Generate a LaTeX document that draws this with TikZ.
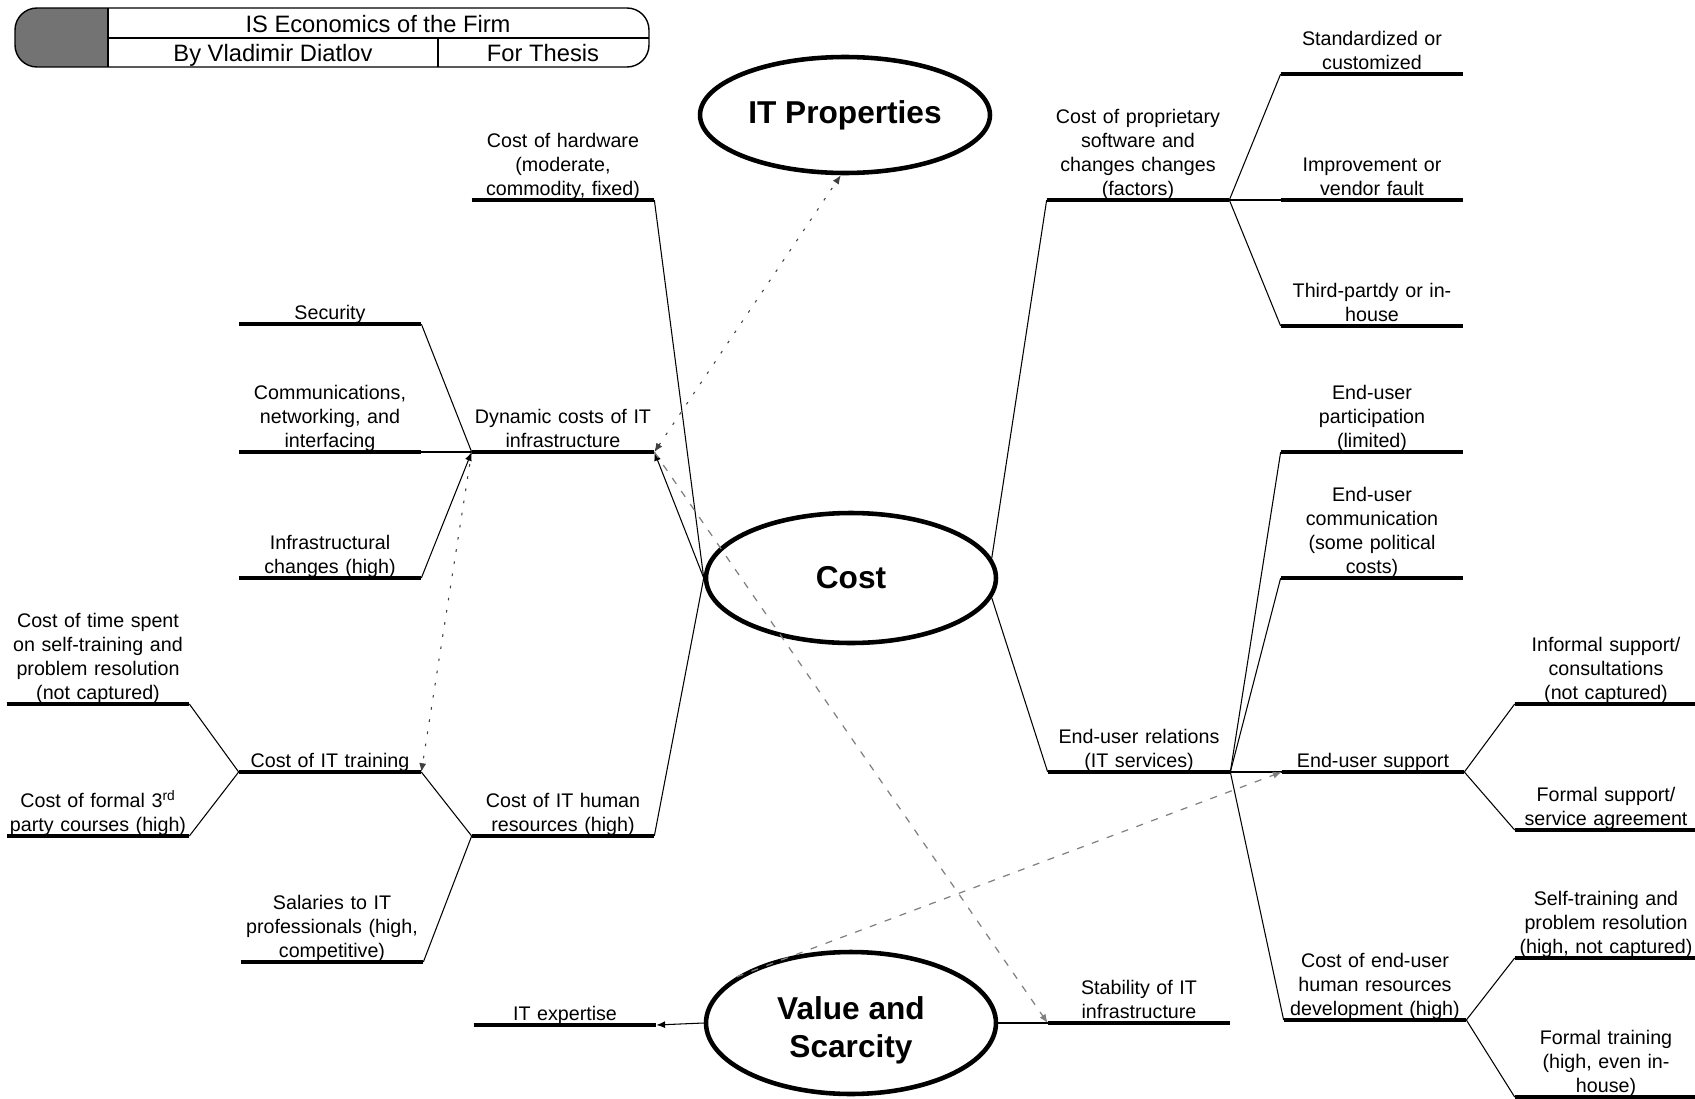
\documentclass[tikz,border=0pt]{standalone}
\usepackage{fontspec}
\setmainfont{Liberation Sans}
\usetikzlibrary{shapes.geometric,arrows.meta,calc}

\tikzset{
  topic/.style={text width=3.64cm, align=center, inner xsep=0pt, inner ysep=0pt,
    anchor=south, font=\fontsize{11.2}{13.6}\selectfont,
    execute at end node={\unskip\rule[-2.4pt]{0pt}{2.4pt}}},
  bar/.style={line width=2.4pt},
  link/.style={line width=0.6pt},
  tip/.style={-{Latex[length=5pt,width=4pt]}},
  twotips/.style={{Latex[length=5pt,width=4pt]}-{Latex[length=5pt,width=4pt]}},
  dotline/.style={line width=0.6pt, black!75, dash pattern=on 1.5pt off 5.5pt},
  dashline/.style={line width=0.7pt, black!50, dash pattern=on 4pt off 5pt},
  bubble/.style={ellipse, draw, line width=2.6pt, inner sep=0pt, align=center,
    font=\fontsize{18}{21.6}\selectfont\bfseries},
  heading/.style={font=\fontsize{13.5}{16}\selectfont, inner sep=0pt, anchor=base},
}

\begin{document}
\begin{tikzpicture}[x=0.02cm, y=-0.02cm]
\useasboundingbox (0,0) rectangle (1695,1099);

% header plate
\begin{scope}
  \clip[rounded corners=0.44cm] (15,8) rectangle (649,67);
  \fill[black!55] (15,8) rectangle (108,67);
\end{scope}
\draw[line width=0.8pt, rounded corners=0.44cm] (15,8) rectangle (649,67);
\draw[line width=0.6pt] (108,8) -- (108,67);
\draw[line width=0.6pt] (108,38) -- (649,38);
\draw[line width=0.6pt] (438,38) -- (438,67);
\node[heading] (ttl) at (378,32) {IS Economics of the Firm};
\node[heading] (auth) at (273,61) {By Vladimir Diatlov};
\node[heading] (purp) at (543,61) {For Thesis};

% central ellipses
\node[bubble, minimum width=5.8cm, minimum height=2.32cm] (itp) at (845,115) {IT Properties};
\node[bubble, minimum width=5.8cm, minimum height=2.6cm] (cost) at (851,578) {Cost};
\node[bubble, minimum width=5.8cm, minimum height=2.84cm] (vs) at (851,1023)
  {\rule{0pt}{21.5pt}Value and\\Scarcity};

% left branches
\node[topic] (hw) at (563,200) {Cost of hardware\\(moderate,\\commodity, fixed)};
\node[topic] (dyn) at (563,452) {Dynamic costs of IT\\infrastructure};
\node[topic] (sec) at (330,324) {Security};
\node[topic] (comm) at (330,452) {Communications,\\networking, and\\interfacing};
\node[topic] (infra) at (330,578) {Infrastructural\\changes (high)};
\node[topic] (time) at (98,704) {Cost of time spent\\on self-training and\\problem resolution\\(not captured)};
\node[topic] (train) at (330,772) {Cost of IT training};
\node[topic] (fthird) at (98,836) {Cost of formal 3\textsuperscript{rd}\\party courses (high)};
\node[topic] (hr) at (563,836) {Cost of IT human\\resources (high)};
\node[topic] (sal) at (332,962) {Salaries to IT\\professionals (high,\\competitive)};
\node[topic] (exp) at (565,1025) {IT expertise};

% right branches
\node[topic] (prop) at (1138,200) {Cost of proprietary\\software and\\changes changes\\(factors)};
\node[topic] (std) at (1372,74) {Standardized or\\customized};
\node[topic] (impr) at (1372,200) {Improvement or\\vendor fault};
\node[topic] (thirdp) at (1372,326) {Third-partdy or in-\\house};
\node[topic] (part) at (1372,452) {End-user\\participation\\(limited)};
\node[topic] (ecom) at (1372,578) {End-user\\communication\\(some political\\costs)};
\node[topic] (rel) at (1139,772) {End-user relations\\(IT services)};
\node[topic] (sup) at (1373,772) {End-user support};
\node[topic] (inf) at (1606,704) {Informal support/\\consultations\\(not captured)};
\node[topic] (fsup) at (1606,830) {Formal support/\\service agreement};
\node[topic] (ehr) at (1375,1020) {Cost of end-user\\human resources\\development (high)};
\node[topic] (selft) at (1606,958) {Self-training and\\problem resolution\\(high, not captured)};
\node[topic] (ftr) at (1606,1097) {Formal training\\(high, even in-\\house)};
\node[topic] (stab) at (1139,1023) {Stability of IT\\infrastructure};

% underline bars
\foreach \n in {hw,dyn,sec,comm,infra,time,train,fthird,hr,sal,exp,
                prop,std,impr,thirdp,part,ecom,rel,sup,inf,fsup,ehr,selft,ftr,stab}
  \draw[bar] (\n.south west) -- (\n.south east);

% solid connectors
\draw[link] (hw.south east) -- (cost.west);
\draw[link,tip] (cost.west) -- (dyn.south east);
\draw[link] (hr.south east) -- (cost.west);
\draw[link] (cost.8) -- (prop.south west);
\draw[link] (cost.-8) -- (rel.south west);
\draw[link] (sec.south east) -- (dyn.south west);
\draw[link] (comm.south east) -- (dyn.south west);
\draw[link,tip] (infra.south east) -- (dyn.south west);
\draw[link] (time.south east) -- (train.south west);
\draw[link] (fthird.south east) -- (train.south west);
\draw[link] (train.south east) -- (hr.south west);
\draw[link] (sal.south east) -- (hr.south west);
\foreach \n in {std,impr,thirdp} \draw[link] (prop.south east) -- (\n.south west);
\foreach \n in {part,ecom,sup,ehr} \draw[link] (rel.south east) -- (\n.south west);
\foreach \n in {inf,fsup} \draw[link] (sup.south east) -- (\n.south west);
\foreach \n in {selft,ftr} \draw[link] (ehr.south east) -- (\n.south west);
\draw[link,tip] (vs.west) -- (exp.south east);
\draw[link] (vs.east) -- (stab.south west);

% dotted and dashed relations
\draw[dotline,twotips] (dyn.south east) -- (itp.266);
\draw[dotline,tip] (dyn.south west) -- (train.south east);
\draw[dashline,tip] (dyn.south east) -- (stab.south west);
\draw[dashline,tip] (vs.158) -- (sup.south west);
\end{tikzpicture}
\end{document}
